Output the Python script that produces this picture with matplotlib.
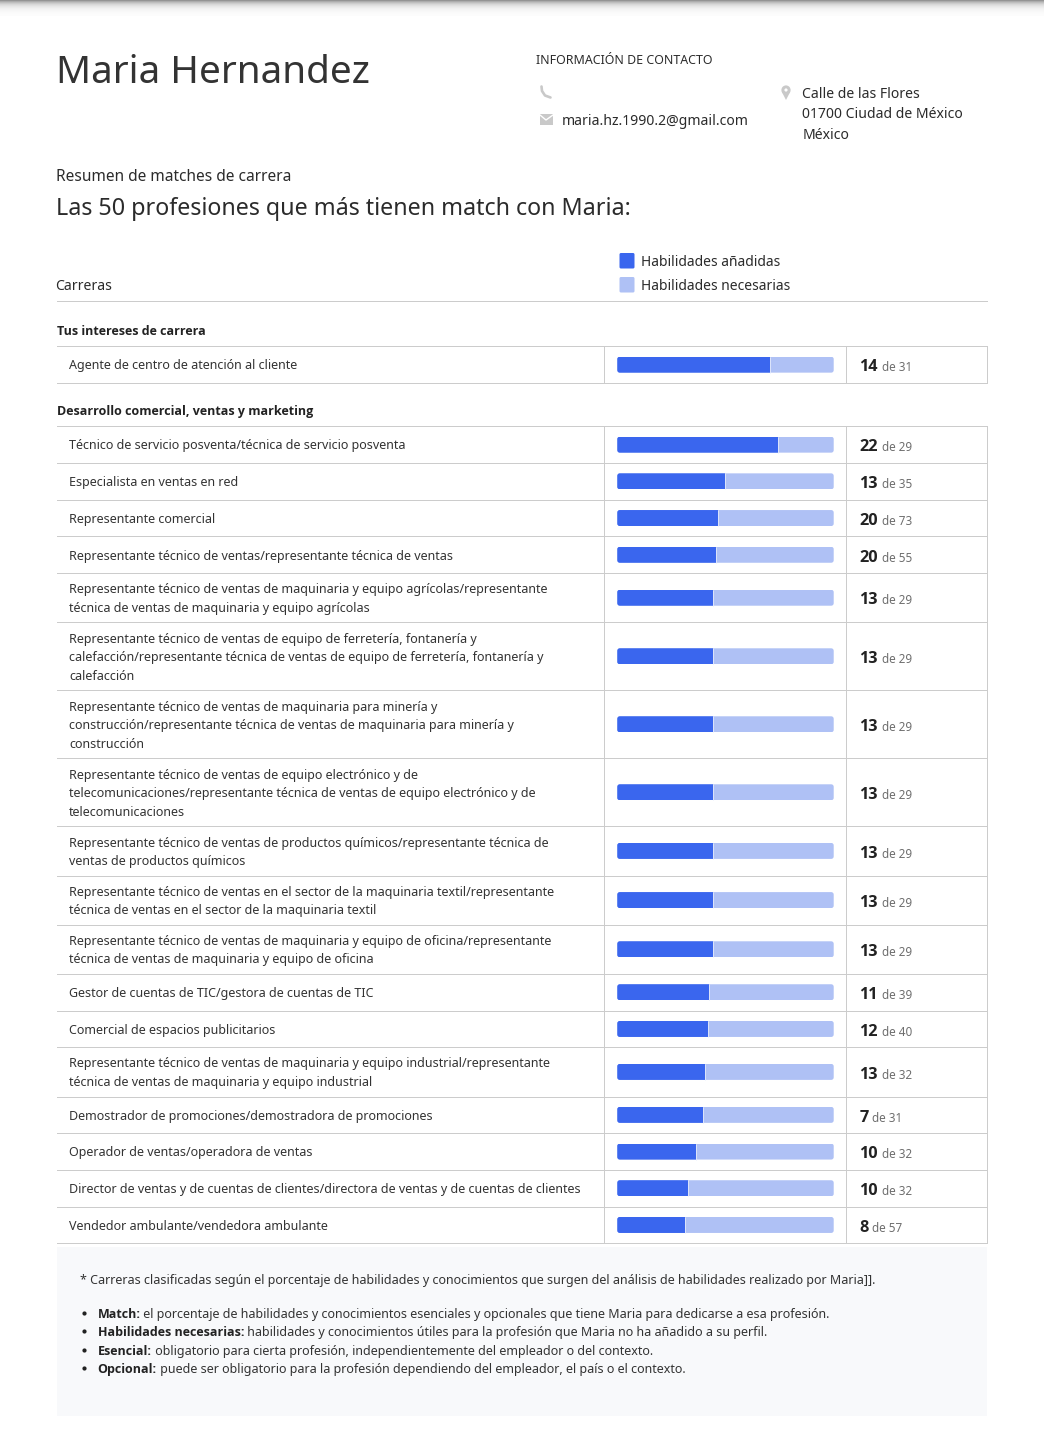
import numpy as np
import matplotlib
matplotlib.use("Agg")
import matplotlib.pyplot as plt
from matplotlib.patches import Rectangle, FancyBboxPatch, Circle, Polygon

plt.rcParams['font.family'] = ['Noto Sans', 'DejaVu Sans']

# datos
group_names = ["Tus intereses de carrera", "Desarrollo comercial, ventas y marketing"]
group_sizes = [1, 18]
careers = [
    "Agente de centro de atención al cliente",
    "Técnico de servicio posventa/técnica de servicio posventa",
    "Especialista en ventas en red",
    "Representante comercial",
    "Representante técnico de ventas/representante técnica de ventas",
    "Representante técnico de ventas de maquinaria y equipo agrícolas/representante\ntécnica de ventas de maquinaria y equipo agrícolas",
    "Representante técnico de ventas de equipo de ferretería, fontanería y\ncalefacción/representante técnica de ventas de equipo de ferretería, fontanería y\ncalefacción",
    "Representante técnico de ventas de maquinaria para minería y\nconstrucción/representante técnica de ventas de maquinaria para minería y\nconstrucción",
    "Representante técnico de ventas de equipo electrónico y de\ntelecomunicaciones/representante técnica de ventas de equipo electrónico y de\ntelecomunicaciones",
    "Representante técnico de ventas de productos químicos/representante técnica de\nventas de productos químicos",
    "Representante técnico de ventas en el sector de la maquinaria textil/representante\ntécnica de ventas en el sector de la maquinaria textil",
    "Representante técnico de ventas de maquinaria y equipo de oficina/representante\ntécnica de ventas de maquinaria y equipo de oficina",
    "Gestor de cuentas de TIC/gestora de cuentas de TIC",
    "Comercial de espacios publicitarios",
    "Representante técnico de ventas de maquinaria y equipo industrial/representante\ntécnica de ventas de maquinaria y equipo industrial",
    "Demostrador de promociones/demostradora de promociones",
    "Operador de ventas/operadora de ventas",
    "Director de ventas y de cuentas de clientes/directora de ventas y de cuentas de clientes",
    "Vendedor ambulante/vendedora ambulante",
]
match_pct = [70.6, 74.2, 49.8, 46.5, 45.6, 44.4, 44.4, 44.4, 44.4, 44.4, 44.4, 44.4,
             42.6, 41.7, 40.5, 39.6, 36.4, 32.7, 31.3]
skills_have = [14, 22, 13, 20, 20, 13, 13, 13, 13, 13, 13, 13, 11, 12, 13, 7, 10, 10, 8]
skills_total = [31, 29, 35, 73, 55, 29, 29, 29, 29, 29, 29, 29, 39, 40, 32, 31, 32, 32, 57]

notes = [
    ("Match:", " el porcentaje de habilidades y conocimientos esenciales y opcionales que tiene Maria para dedicarse a esa profesión."),
    ("Habilidades necesarias:", " habilidades y conocimientos útiles para la profesión que Maria no ha añadido a su perfil."),
    ("Esencial:", " obligatorio para cierta profesión, independientemente del empleador o del contexto."),
    ("Opcional:", " puede ser obligatorio para la profesión dependiendo del empleador, el país o el contexto."),
]

W, H = 1044, 1440
BLUE = "#3a66ee"
LIGHT = "#afc1f5"
LINE = "#cccccc"
DARK = "#2b2b2b"
GREY = "#6e6e6e"
ICON = "#c9c9c9"
LW = 0.72  # 1 px


def px(size):
    return size * 0.72


fig = plt.figure(figsize=(W / 100, H / 100), dpi=100, facecolor="white")
ax = fig.add_axes([0, 0, 1, 1])
ax.set_xlim(0, W)
ax.set_ylim(H, 0)
ax.axis("off")

# eje de las barras: 0-100 % en horizontal, pixeles de pagina en vertical
BAR_L, BAR_R = 617.3, 833.7
ax_bar = fig.add_axes([BAR_L / W, 0, (BAR_R - BAR_L) / W, 1], zorder=3)
ax_bar.set_xlim(0, 100)
ax_bar.set_ylim(H, 0)
ax_bar.axis("off")

renderer = fig.canvas.get_renderer()


def put(x, y, s, size, color=DARK, bold=False):
    # Noto Sans no trae negrita instalada con ese nombre, se usa Open Sans
    if bold:
        t = ax.text(x, y, s, fontsize=px(size), color=color, fontweight="bold",
                    family=["Open Sans", "DejaVu Sans"], ha="left", va="baseline")
    else:
        t = ax.text(x, y, s, fontsize=px(size), color=color, ha="left", va="baseline")
    return x + t.get_window_extent(renderer).width


# sombra superior
for i in range(16):
    g = 1 - 0.42 * np.exp(-i / 4.0)
    ax.add_patch(Rectangle((0, i), W, 1, fc=(g, g, g), ec="none", zorder=1))

# cabecera
put(56.5, 83.4, "Maria Hernandez", 38.7, "#333333")
put(536, 64, "INFORMACIÓN DE CONTACTO", 12.4)
put(562, 125, "maria.hz.1990.2@gmail.com", 14)
put(802.5, 98, "Calle de las Flores", 14)
put(802.5, 118.5, "01700 Ciudad de México", 14)
put(802.5, 139, "México", 14)

# iconos
ax.plot([541.5, 542, 545, 550.5], [86.5, 91, 95.5, 97.5], color=ICON, lw=1.9, solid_capstyle="round")
ax.add_patch(Rectangle((539.5, 114), 13.5, 11, fc=ICON, ec="none"))
ax.plot([540, 546, 553], [115, 120, 115], color="white", lw=1.0)
ax.add_patch(Circle((786, 90), 4.6, fc=ICON, ec="none"))
ax.add_patch(Polygon([[781.6, 91.5], [790.4, 91.5], [786, 100]], fc=ICON, ec="none"))
ax.add_patch(Circle((786, 90), 1.6, fc="white", ec="none"))

put(56, 181, "Resumen de matches de carrera", 15.45)
put(56, 215, "Las 50 profesiones que más tienen match con Maria:", 23.3)

# leyenda y cabecera de tabla
put(55.5, 290, "Carreras", 14)
for y, col, label in [(253, BLUE, "Habilidades añadidas"), (277, LIGHT, "Habilidades necesarias")]:
    ax.add_patch(FancyBboxPatch((619.5, y), 15, 15.5, boxstyle="round,pad=0,rounding_size=1.5",
                                fc=col, ec="none"))
    put(641.2, y + 13, label, 13.85)
ax.plot([57, 987], [301, 301], color=LINE, lw=LW)

# tabla
LINE_H = 18.4
ROW_H = {1: 36.7, 2: 49.2, 3: 68.0}
GROUP_TITLE_Y = [335, 415]
GROUP_TOP = [346.3, 426.3]
COL_A, COL_B, COL_C = 604, 846, 987

idx = 0
for g, name in enumerate(group_names):
    put(57, GROUP_TITLE_Y[g], name, 12.5, "#222222", bold=True)
    y = GROUP_TOP[g]
    ax.plot([57, COL_C], [y, y], color=LINE, lw=LW)
    for _ in range(group_sizes[g]):
        lines = careers[idx].split("\n")
        n = len(lines)
        h = ROW_H[n]
        c = y + h / 2
        for i, ln in enumerate(lines):
            put(69.2, c + (i - (n - 1) / 2) * LINE_H + 4.8, ln, 12.5, "#333333")
        # barra: fondo y parte rellena, recortadas a un rectangulo redondeado
        clip = FancyBboxPatch((BAR_L, c - 8), BAR_R - BAR_L, 16,
                              boxstyle="round,pad=0,rounding_size=2.5",
                              fc="none", ec="none", transform=ax.transData)
        ax.add_patch(clip)
        back = ax_bar.barh(c, 100, height=16, color=LIGHT, linewidth=0)
        front = ax_bar.barh(c, match_pct[idx], height=16, color=BLUE, linewidth=0)
        for rect in list(back) + list(front):
            rect.set_clip_path(clip)
        ax_bar.vlines(match_pct[idx], c - 8, c + 8, color="#e4eafc", lw=0.6)
        xe = put(859.5, c + 6.8, str(skills_have[idx]), 16.2, "#222222", bold=True)
        put(xe + 3.5, c + 6.8, "de %d" % skills_total[idx], 11.7, GREY)
        y2 = y + h
        ax.plot([57, COL_C], [y2, y2], color=LINE, lw=LW)
        for x in (COL_A, COL_B, COL_C):
            ax.plot([x, x], [y, y2], color=LINE, lw=LW)
        y = y2
        idx += 1

# nota al pie
ax.add_patch(Rectangle((57, 1247), 930, 169, fc="#f8f9fb", ec="none"))
put(80, 1284, "* Carreras clasificadas según el porcentaje de habilidades y conocimientos que surgen del análisis de habilidades realizado por Maria]].", 12.5, "#333333")
for yb, (head, body) in zip([1318, 1336, 1355, 1373], notes):
    ax.add_patch(Circle((84.5, yb - 4.5), 2.1, fc="#222222", ec="none"))
    xe = put(97.5, yb, head, 12.5, "#222222", bold=True)
    put(xe, yb, body, 12.5, "#333333")

fig.savefig("out.png", dpi=100, facecolor="white")
